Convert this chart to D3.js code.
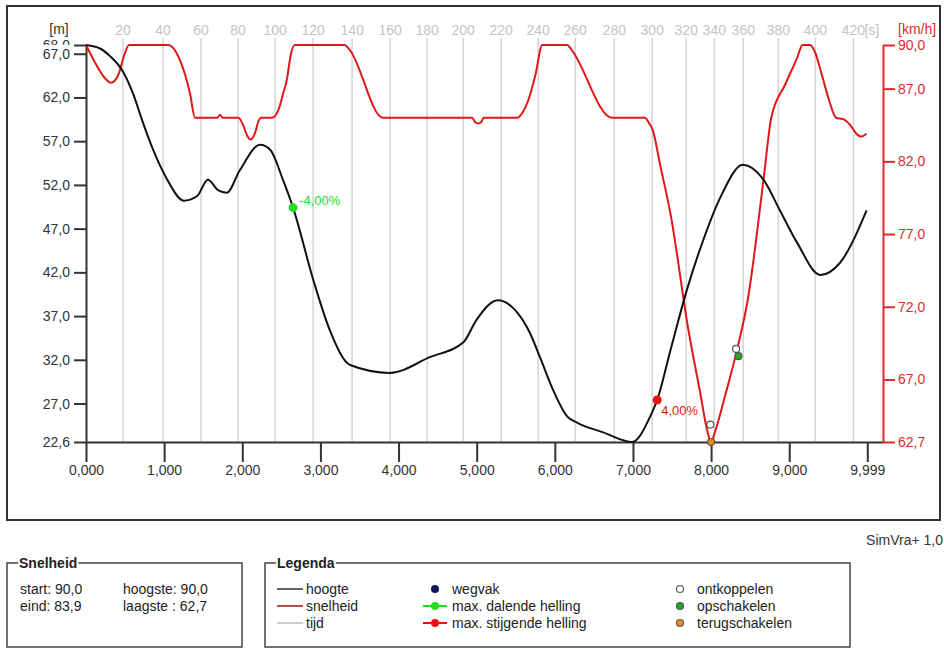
<!DOCTYPE html>
<html>
<head>
<meta charset="utf-8">
<script src="https://cdn.jsdelivr.net/npm/d3@7"></script>
<style>
  body { margin: 0; background: #fff; }
  svg { font-family: "Liberation Sans", Arial, sans-serif; }
</style>
</head>
<body>
<script>
// distance along route [m] and height [m]
const heightDist = [0, 180, 310, 470, 600, 730, 860, 1040, 1250, 1420, 1560, 1690, 1800, 1970, 2230, 2360, 2520, 2650, 2910, 3120, 3380, 3890, 4400, 4830, 5000, 5270, 5520, 5680, 5810, 5980, 6160, 6290, 6620, 6990, 7220, 7310, 7480, 7690, 7900, 8120, 8410, 8670, 8880, 9100, 9400, 9650, 9990];
const heightVal  = [68.0, 67.6, 66.7, 65.0, 62.5, 59.1, 56.0, 52.6, 50.2, 50.7, 52.6, 51.4, 51.1, 53.7, 56.6, 56.0, 52.6, 49.4, 41.1, 35.4, 31.4, 30.5, 32.3, 34.0, 36.6, 38.8, 37.4, 35.1, 32.3, 28.5, 25.5, 24.8, 23.7, 22.6, 25.5, 27.4, 33.1, 40.0, 45.7, 50.6, 54.3, 52.6, 49.1, 45.4, 41.7, 43.1, 49.1];

// distance [m] and speed [km/h]
const speedDist = [0, 115, 230, 320, 410, 490, 550, 1050, 1130, 1200, 1330, 1395, 1680, 1715, 1750, 1950, 2010, 2060, 2110, 2160, 2210, 2240, 2380, 2460, 2520, 2570, 2620, 2670, 3310, 3370, 3800, 4940, 4980, 5020, 5060, 5090, 5520, 5580, 5660, 5750, 5840, 6160, 6210, 6730, 7150, 7220, 7250, 7350, 7480, 7710, 7860, 7950, 8000, 8050, 8180, 8330, 8470, 8670, 8770, 8950, 9100, 9170, 9270, 9330, 9420, 9510, 9600, 9690, 9780, 9860, 9920, 9990];
const speedVal  = [90.0, 88.8, 87.8, 87.4, 87.9, 89.3, 90.0, 90.0, 89.7, 89.0, 86.7, 85.0, 85.0, 85.2, 85.0, 85.0, 84.5, 83.8, 83.5, 83.9, 84.8, 85.0, 85.0, 85.5, 86.6, 87.6, 89.3, 90.0, 90.0, 89.7, 85.0, 85.0, 84.7, 84.6, 84.7, 85.0, 85.0, 85.3, 86.2, 87.9, 90.0, 90.0, 89.7, 85.0, 85.0, 84.5, 84.2, 81.7, 78.4, 70.4, 66.1, 63.5, 62.7, 63.4, 65.9, 69.0, 72.5, 80.7, 85.0, 87.3, 89.1, 90.0, 90.0, 89.5, 87.9, 86.2, 85.0, 84.9, 84.5, 83.9, 83.7, 83.9];

// time gridlines: seconds and distance reached
const timeTicks = [20, 40, 60, 80, 100, 120, 140, 160, 180, 200, 220, 240, 260, 280, 300, 320, 340, 360, 380, 400, 420];
const timeDist  = [474, 986, 1472, 1946, 2420, 2906, 3406, 3892, 4366, 4827, 5314, 5787, 6261, 6761, 7247, 7682, 8041, 8412, 8860, 9334, 9821];

const distTicks = [0, 1000, 2000, 3000, 4000, 5000, 6000, 7000, 8000, 9000, 9999];
const heightTicks = [68.0, 67.0, 62.0, 57.0, 52.0, 47.0, 42.0, 37.0, 32.0, 27.0, 22.6];
const speedTicks = [90.0, 87.0, 82.0, 77.0, 72.0, 67.0, 62.7];

// slope markers (on height)
const slopes = [
  {dist: 2650, h: 49.4, label: "-4,00%", color: "#22dd22"},
  {dist: 7310, h: 27.4, label: "4,00%", color: "#ee1111"}
];
// gear events (on speed)
const ontkoppelen = [{dist: 7990, v: 63.9}, {dist: 8320, v: 69.1}];
const opschakelen = [{dist: 8350, v: 68.6}];
const terugschakelen = [{dist: 8000, v: 62.7}];

const W = 944, H = 648;
const svg = d3.select("body").append("svg").attr("width", W).attr("height", H);

const nl = d3.formatLocale({decimal: ",", thousands: ".", grouping: [3], currency: ["", ""]});
const f1 = nl.format(".1f"), f3 = nl.format(".3f");

const x = d3.scaleLinear().domain([0, 10200]).range([86, 883]);
const yH = d3.scaleLinear().domain([22.6, 68.0]).range([442, 45]);
const yV = d3.scaleLinear().domain([62.7, 90.0]).range([442, 45]);

// outer frame
svg.append("rect").attr("x", 7).attr("y", 6).attr("width", 933).attr("height", 514)
  .attr("fill", "none").attr("stroke", "#333").attr("stroke-width", 2);

// time grid
const grid = svg.append("g");
timeDist.forEach((d, i) => {
  grid.append("line").attr("x1", x(d)).attr("x2", x(d)).attr("y1", 38).attr("y2", 442)
    .attr("stroke", "#d4d4d4").attr("stroke-width", 1.5);
  grid.append("text").attr("x", x(d)).attr("y", 35).attr("text-anchor", "middle")
    .attr("font-size", 14).attr("fill", "#c4c4c4").text(timeTicks[i]);
});
grid.append("text").attr("x", x(timeDist[timeDist.length - 1]) + 11).attr("y", 35)
  .attr("font-size", 14).attr("fill", "#c4c4c4").text("[s]");

// axes
const ax = svg.append("g").attr("transform", "translate(0,442)")
  .call(d3.axisBottom(x).tickValues(distTicks).tickSize(20).tickSizeOuter(0).tickPadding(3)
    .tickFormat(d => f3(d / 1000)));
ax.selectAll("path,line").attr("stroke", "#333").attr("stroke-width", 2);
ax.selectAll("text").attr("font-size", 14).attr("fill", "#333").attr("font-family", null);

const ay = svg.append("g").attr("transform", "translate(86,0)")
  .call(d3.axisLeft(yH).tickValues(heightTicks).tickSize(12).tickSizeOuter(0).tickPadding(4).tickFormat(f1));
ay.selectAll("path,line").attr("stroke", "#333").attr("stroke-width", 2);
ay.selectAll("text").attr("font-size", 14).attr("fill", "#333").attr("font-family", null);
// the 67,0 label covers most of the 68,0 label, as in the original
ay.selectAll(".tick").filter(d => d === 68.0).lower();
ay.selectAll(".tick").filter(d => d === 67.0).each(function () {
  const t = d3.select(this).select("text");
  const b = t.node().getBBox();
  d3.select(this).insert("rect", "text").attr("x", b.x - 1).attr("y", b.y - 1)
    .attr("width", b.width + 2).attr("height", b.height + 1).attr("fill", "#fff");
});

const ar = svg.append("g").attr("transform", "translate(883,0)")
  .call(d3.axisRight(yV).tickValues(speedTicks).tickSize(12).tickSizeOuter(0).tickPadding(3).tickFormat(f1));
ar.selectAll("path,line").attr("stroke", "#e02a2a").attr("stroke-width", 2);
ar.selectAll("text").attr("font-size", 14).attr("fill", "#e02a2a").attr("font-family", null);

svg.append("text").attr("x", 59).attr("y", 34).attr("text-anchor", "middle")
  .attr("font-size", 14).attr("fill", "#333").text("[m]");
svg.append("text").attr("x", 898).attr("y", 34)
  .attr("font-size", 14).attr("fill", "#e02a2a").text("[km/h]");

// lines
const hLine = d3.line().x((d, i) => x(heightDist[i])).y(d => yH(d)).curve(d3.curveMonotoneX);
const vLine = d3.line().x((d, i) => x(speedDist[i])).y(d => yV(d)).curve(d3.curveMonotoneX);

svg.append("path").attr("d", vLine(speedVal)).attr("fill", "none")
  .attr("stroke", "#e01818").attr("stroke-width", 2);
svg.append("path").attr("d", hLine(heightVal)).attr("fill", "none")
  .attr("stroke", "#111").attr("stroke-width", 2);

// markers
slopes.forEach(s => {
  svg.append("circle").attr("cx", x(s.dist)).attr("cy", yH(s.h)).attr("r", 4.5).attr("fill", s.color);
});
svg.append("text").attr("x", x(slopes[0].dist) + 6).attr("y", yH(slopes[0].h) - 3)
  .attr("font-size", 13).attr("fill", slopes[0].color).text(slopes[0].label);
svg.append("text").attr("x", x(slopes[1].dist) + 4).attr("y", yH(slopes[1].h) + 15)
  .attr("font-size", 13).attr("fill", slopes[1].color).text(slopes[1].label);

const ev = (arr, fill) => arr.forEach(e => {
  svg.append("circle").attr("cx", x(e.dist)).attr("cy", yV(e.v)).attr("r", 3.5)
    .attr("fill", fill).attr("stroke", "#555").attr("stroke-width", 1.2);
});
ev(ontkoppelen, "#fff");
ev(terugschakelen, "#ee8822");
ev(opschakelen, "#22aa22");

svg.append("text").attr("x", 943).attr("y", 545).attr("text-anchor", "end")
  .attr("font-size", 14).attr("fill", "#333").text("SimVra+ 1,0");

// boxes
function box(x0, w, title) {
  const g = svg.append("g");
  g.append("rect").attr("x", x0).attr("y", 563).attr("width", w).attr("height", 84)
    .attr("fill", "none").attr("stroke", "#444").attr("stroke-width", 1.5);
  const bg = g.append("rect").attr("fill", "#fff");
  const t = g.append("text").attr("x", x0 + 12).attr("y", 568).attr("font-size", 14)
    .attr("font-weight", "bold").attr("fill", "#222").text(title);
  const b = t.node().getBBox();
  bg.attr("x", b.x - 1).attr("y", 558).attr("width", b.width + 2).attr("height", 10);
}
box(7, 235, "Snelheid");
box(265, 585, "Legenda");

const rows = [589, 606, 623];
const txt = (tx, ty, s) => svg.append("text").attr("x", tx).attr("y", ty + 5)
  .attr("font-size", 14).attr("fill", "#222").text(s);

txt(20, rows[0], "start: 90,0");
txt(20, rows[1], "eind: 83,9");
txt(123, rows[0], "hoogste: 90,0");
txt(123, rows[1], "laagste : 62,7");

const lineItems = [["hoogte", "#333"], ["snelheid", "#a01010"], ["tijd", "#bbb"]];
lineItems.forEach((it, i) => {
  svg.append("line").attr("x1", 277).attr("x2", 303).attr("y1", rows[i]).attr("y2", rows[i])
    .attr("stroke", it[1]).attr("stroke-width", 1.5);
  txt(306, rows[i], it[0]);
});

const dotItems = [["wegvak", "#14145e", false], ["max. dalende helling", "#22dd22", true], ["max. stijgende helling", "#ee1111", true]];
dotItems.forEach((it, i) => {
  if (it[2]) svg.append("line").attr("x1", 423).attr("x2", 447).attr("y1", rows[i]).attr("y2", rows[i])
    .attr("stroke", it[1]).attr("stroke-width", 2);
  svg.append("circle").attr("cx", 435).attr("cy", rows[i]).attr("r", 4).attr("fill", it[1]);
  txt(452, rows[i], it[0]);
});

const evItems = [["ontkoppelen", "#fff"], ["opschakelen", "#22aa22"], ["terugschakelen", "#ee8822"]];
evItems.forEach((it, i) => {
  svg.append("circle").attr("cx", 680).attr("cy", rows[i]).attr("r", 3.5).attr("fill", it[1])
    .attr("stroke", "#555").attr("stroke-width", 1.2);
  txt(697, rows[i], it[0]);
});
</script>
</body>
</html>
